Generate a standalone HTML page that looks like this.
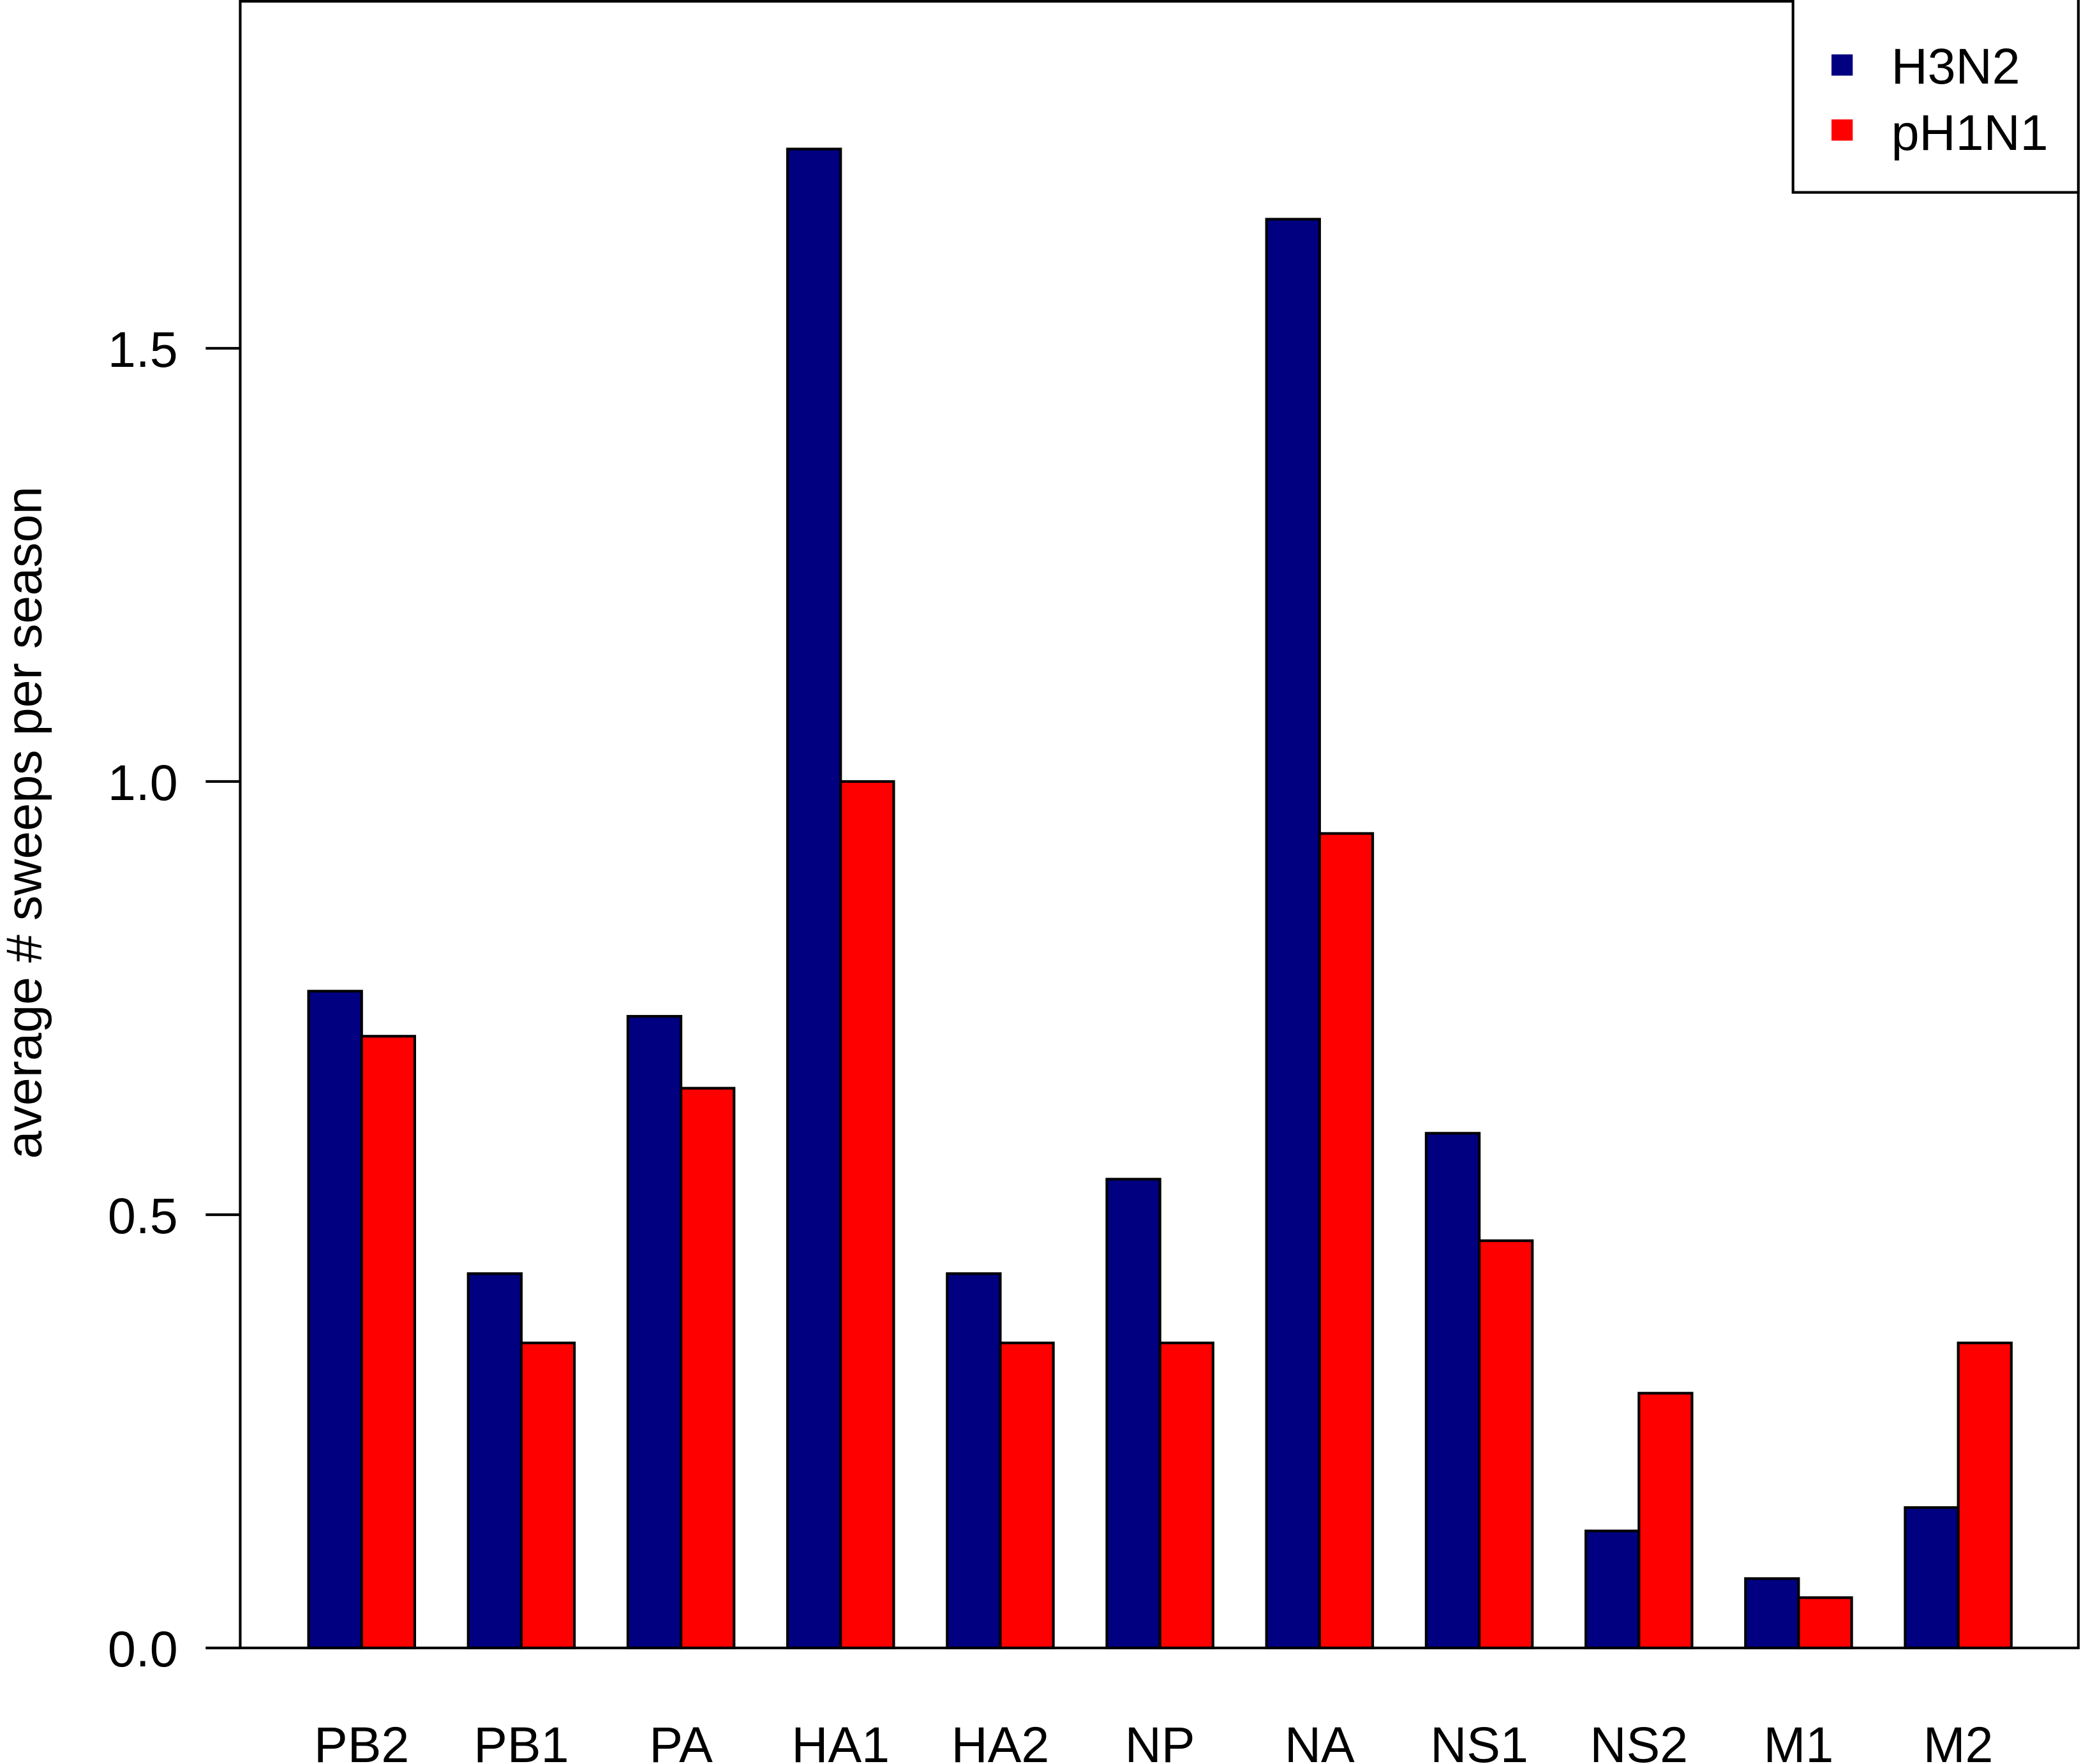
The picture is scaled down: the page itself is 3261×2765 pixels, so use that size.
<!DOCTYPE html>
<html><head><meta charset="utf-8"><style>html,body{margin:0;padding:0;background:#fff}svg{display:block}text{font-family:"Liberation Sans",sans-serif;fill:#000}</style></head>
<body>
<svg id="chart" width="3261" height="2765" viewBox="0 0 1568 1329.5" xmlns="http://www.w3.org/2000/svg">
<g id="bars"></g>
<g id="axes"></g>
<text transform="translate(31,620) rotate(-90)" text-anchor="middle" font-size="38">average # sweeps per season</text>
<g>
<rect x="1351" y="-2" width="215" height="147" fill="#fff" stroke="#000" stroke-width="2"/>
<rect x="1380" y="41" width="16" height="16" fill="#000080"/>
<text x="1425" y="63" font-size="38">H3N2</text>
<rect x="1380" y="90" width="16" height="16" fill="#ff0000"/>
<text x="1425" y="113" font-size="38">pH1N1</text>
</g>
</svg>
<script>
const categories = ["PB2","PB1","PA","HA1","HA2","NP","NA","NS1","NS2","M1","M2"];
const h3n2 = [0.758,0.432,0.729,1.730,0.432,0.541,1.649,0.594,0.135,0.080,0.162];
const ph1n1 = [0.706,0.352,0.646,1.000,0.352,0.352,0.940,0.470,0.294,0.058,0.352];
const yTicks = [0, 0.5, 1.0, 1.5];
const yTickLabels = ["0.0","0.5","1.0","1.5"];
const NS="http://www.w3.org/2000/svg";
const y0=1242, unit=653;
function yScale(v){return y0 - v*unit;}
function xGroup(i){return 232.5 + 120.3*i;}
const barW=40;
const bars=document.getElementById('bars'), axes=document.getElementById('axes');
function mk(tag,attrs,parent){const e=document.createElementNS(NS,tag);for(const k in attrs)e.setAttribute(k,attrs[k]);parent.appendChild(e);return e;}
categories.forEach((c,i)=>{
  const x=xGroup(i);
  const b1=mk('rect',{x:x,y:yScale(h3n2[i]),width:barW,height:y0-yScale(h3n2[i]),fill:'#000080',stroke:'#000','stroke-width':2},bars);
  
  
  const b2=mk('rect',{x:x+barW,y:yScale(ph1n1[i]),width:barW,height:y0-yScale(ph1n1[i]),fill:'#ff0000',stroke:'#000','stroke-width':2},bars);
  
  
  const t=mk('text',{x:x+barW,y:1328,'text-anchor':'middle','font-size':38},axes);
  t.textContent=c;
  
  
});
const frame=mk('path',{d:'M181,1242 L181,1 L1566,1 L1566,1242 M155,1242 L1567,1242',fill:'none',stroke:'#000','stroke-width':2},axes);


yTicks.forEach((v,i)=>{
  const tk=mk('line',{x1:155,x2:181,y1:yScale(v),y2:yScale(v),stroke:'#000','stroke-width':2},axes);
  
  
  const tl=mk('text',{x:134,y:yScale(v)+14,'text-anchor':'end','font-size':38},axes);
  tl.textContent=yTickLabels[i];
  
  
});
</script>
</body></html>
